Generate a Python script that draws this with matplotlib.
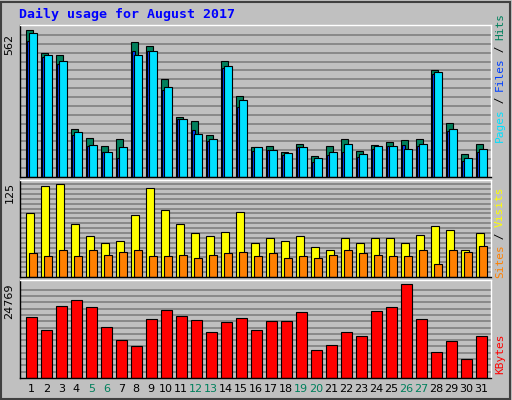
import matplotlib
matplotlib.use("Agg")
import matplotlib.pyplot as plt
import numpy as np

days = list(range(1, 32))
hits = [562,474,466,184,149,119,146,516,501,375,229,214,161,443,310,115,119,96,126,80,119,146,99,122,134,141,146,409,206,88,126]
files = [520,459,433,161,119,96,73,482,482,333,222,180,138,417,268,99,103,84,115,57,84,96,76,107,119,122,119,394,176,61,96]
pages = [551,466,443,172,122,96,115,466,482,344,222,164,145,424,294,115,103,92,115,73,96,126,88,119,119,107,126,401,184,73,107]
visits = [86,123,125,71,55,46,48,84,120,91,71,59,56,61,88,46,53,48,55,41,36,52,46,53,52,46,57,69,63,37,60]
sites = [32,28,36,29,36,30,34,37,28,29,30,25,30,32,34,28,32,25,28,25,30,36,33,30,28,28,36,17,36,34,42]
kbytes = [16059,12793,19053,20686,18781,13609,10071,8438,15514,17964,16331,15242,12248,14941,15786,12793,14970,14970,17420,7349,8710,12248,11160,17692,18781,24769,15514,6805,9799,4899,11160]
weekend = [5,6,12,13,19,20,26,27]

W, H = 512, 400
BG = "#C0C0C0"
C_HITS, C_FILES, C_PAGES = "#00805C", "#0040FF", "#00E0FF"
C_VIS, C_SITES, C_KB = "#FFFF00", "#FF8000", "#FF0000"
mono = "DejaVu Sans Mono"

fig = plt.figure(figsize=(W/100, H/100), dpi=100, facecolor=BG)
# outer frame
fig.patches.append(plt.Rectangle((1/W, 1/H), (W-3)/W, (H-3)/H, transform=fig.transFigure,
                                 fill=False, edgecolor="#404040", lw=1.5))
fig.text(19/W, 1-14/H, "Daily usage for August 2017", color="#0000FF", fontsize=9.5,
         fontweight="bold", family=mono, va="center", ha="left")

def mkax(top, bottom, ymax, step, maxval, label):
    ax = fig.add_axes([20/W, 1-bottom/H, 471/W, (bottom-top)/H], facecolor=BG)
    ax.set_xlim(0.25, 31.65)
    ax.set_ylim(0, ymax)
    for y in np.arange(step, maxval*1.001, step):
        ax.axhline(y, color="#808080", lw=1.2, zorder=0)
    ax.set_xticks([]); ax.set_yticks([])
    for s in ax.spines.values():
        s.set_color("black"); s.set_linewidth(1)
    ax.spines["right"].set_color("white"); ax.spines["top"].set_color("white")
    ax.text(-0.012, maxval, label, transform=ax.get_yaxis_transform(), rotation=90,
            ha="right", va="top", fontsize=8, family="DejaVu Sans")
    return ax

d = np.array(days)
ax1 = mkax(25, 177, 580, 33.9, 545, "562")
ax1.bar(d-0.13, hits, 0.47, color=C_HITS, edgecolor="black", lw=0.8)
ax1.bar(d-0.17, files, 0.22, color=C_FILES, edgecolor="black", lw=0.8)
ax1.bar(d+0.12, pages, 0.49, color=C_PAGES, edgecolor="black", lw=0.8)

ax2 = mkax(180, 277, 131, 6.6, 128, "125")
ax2.bar(d-0.1, visits, 0.53, color=C_VIS, edgecolor="black", lw=0.8)
ax2.bar(d+0.12, sites, 0.49, color=C_SITES, edgecolor="black", lw=0.8)

ax3 = mkax(280, 378, 25949, 1670, 25000, "24769")
ax3.bar(d, kbytes, 0.71, color=C_KB, edgecolor="black", lw=0.8)

for day in days:
    x = (20 + (day-0.25)/31.4*471)/W
    fig.text(x, 1-389/H, str(day), ha="center", va="center", fontsize=8,
             color=C_HITS if day in weekend else "black")

def rlabel(parts, ybottom):
    y = ybottom
    for txt, col in parts:
        t = fig.text(500/W, 1-y/H, txt, rotation=90, ha="center", va="bottom",
                     fontsize=8, family=mono, color=col)
        y -= len(txt)*6.4
rlabel([("Pages", C_PAGES), (" / ", "black"), ("Files", C_FILES), (" / ", "black"), ("Hits", C_HITS)], 142)
rlabel([("Sites", C_SITES), (" / ", "black"), ("Visits", C_VIS)], 278)
rlabel([("KBytes", C_KB)], 374)

fig.savefig("out.png", dpi=100, facecolor=BG)
